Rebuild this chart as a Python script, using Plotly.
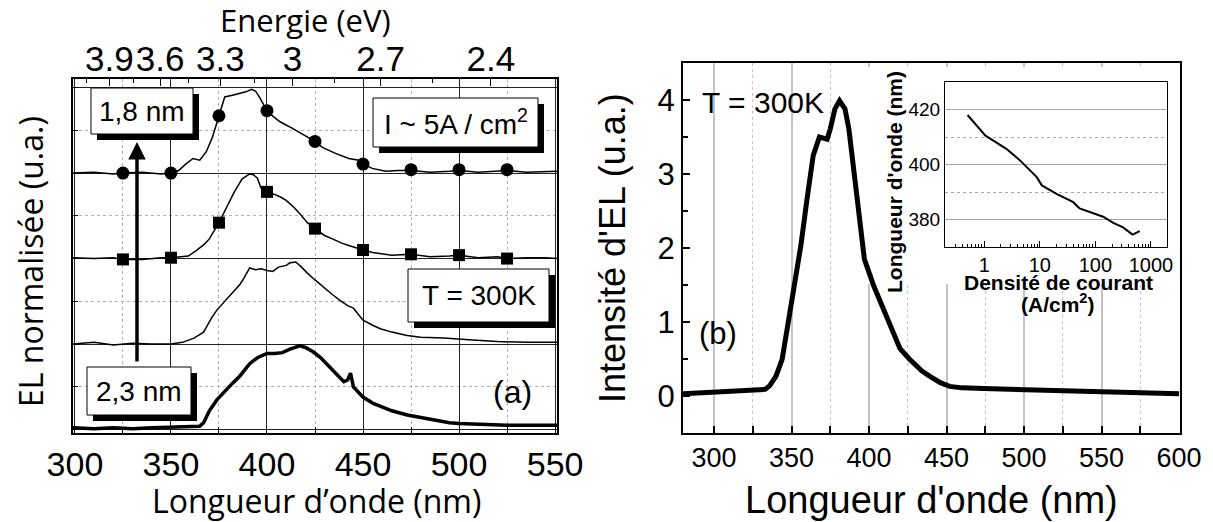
import plotly.graph_objects as go

# ---------------- data ----------------
# Panel (a): normalised EL spectra, stacked (offsets 3,2,1,0)
lam1 = [299, 310, 320, 325, 335, 345, 350, 354, 358, 361.5, 365, 368.4, 371.6, 375, 378, 382, 386, 389, 392, 394, 396,
        400, 403.3, 406.8, 413.5, 420.1, 425, 428.8, 435.7, 442.6, 447.8, 450, 454.8, 461.7, 468, 475, 485, 495, 500,
        510, 520, 525, 535, 545, 551]
h1 = [0.0, 0.01, -0.01, 0.0, 0.01, -0.01, 0.0, 0.03, 0.11, 0.17, 0.15, 0.25, 0.42, 0.67, 0.89, 0.91, 0.93, 0.95, 0.98,
      0.96, 0.89, 0.73, 0.66, 0.60, 0.52, 0.43, 0.37, 0.30, 0.23, 0.17, 0.15, 0.105, 0.055, 0.02, 0.03, 0.03, 0.01,
      0.02, 0.03, 0.01, 0.02, 0.03, 0.01, 0.02, 0.02]

lam2 = [299, 310, 320, 325, 335, 345, 350, 355, 359, 363, 367, 370, 375, 379, 383, 387, 391, 393, 395, 397, 400, 404,
        407, 410, 414, 418, 421, 425, 430, 434, 439, 443, 447, 450, 455, 459, 465, 475, 485, 495, 500, 510, 520, 525,
        535, 545, 551]
h2 = [0.01, 0.0, 0.01, -0.01, -0.01, 0.01, 0.01, 0.02, 0.03, 0.09, 0.16, 0.23, 0.42, 0.60, 0.78, 0.93, 0.99, 0.98, 0.94,
      0.82, 0.78, 0.75, 0.72, 0.68, 0.60, 0.50, 0.42, 0.35, 0.27, 0.23, 0.18, 0.15, 0.12, 0.10, 0.07, 0.06, 0.04, 0.05,
      0.02, 0.03, 0.04, 0.01, 0.02, 0.0, 0.01, 0.01, 0.0]

lam3 = [299, 310, 320, 330, 340, 350, 356, 362, 367, 371, 374, 378, 382, 386, 388, 391, 394, 397, 400, 403, 406, 410,
        412, 415, 418, 421, 425, 429, 434, 438, 442, 445, 448, 450, 455, 459, 465, 473, 480, 492, 505, 520, 535, 551]
h3 = [0.0, 0.02, -0.01, 0.01, 0.0, 0.0, 0.02, 0.07, 0.14, 0.30, 0.40, 0.50, 0.59, 0.70, 0.77, 0.89, 0.87, 0.88, 0.86,
      0.85, 0.90, 0.92, 0.95, 0.96, 0.90, 0.83, 0.75, 0.67, 0.58, 0.51, 0.45, 0.42, 0.33, 0.28, 0.22, 0.18, 0.14, 0.10,
      0.08, 0.07, 0.05, 0.03, 0.02, 0.02]

lam4 = [299, 310, 320, 330, 340, 350, 360, 365, 367, 370, 374, 378, 382, 386, 391, 395, 400, 404, 408, 412, 417, 420,
        424, 428, 431, 435, 440, 442, 443.5, 445, 448, 450, 455, 459, 465, 473, 480, 487, 495, 500, 510, 525, 540, 551]
h4 = [0.02, 0.01, 0.02, 0.01, 0.02, 0.03, 0.03, 0.04, 0.08, 0.22, 0.35, 0.45, 0.54, 0.63, 0.77, 0.84, 0.89, 0.89, 0.90,
      0.94, 0.98, 0.96, 0.91, 0.84, 0.77, 0.68, 0.56, 0.58, 0.66, 0.50, 0.42, 0.38, 0.31, 0.27, 0.22, 0.17, 0.14, 0.11,
      0.08, 0.07, 0.06, 0.05, 0.05, 0.05]

offsets = [3, 2, 1, 0]

marker_lam = [325, 350, 375, 400, 425, 450, 475, 500, 525]
circle_h = [0.0, 0.0, 0.67, 0.73, 0.37, 0.105, 0.04, 0.04, 0.04]
square_h = [-0.01, 0.01, 0.42, 0.78, 0.35, 0.10, 0.05, 0.04, 0.0]

energy_ticks = [3.9, 3.6, 3.3, 3.0, 2.7, 2.4]
energy_labels = ["3.9", "3.6", "3.3", "3", "2.7", "2.4"]
energy_minor = [4.05, 3.75, 3.45, 3.15, 2.85, 2.55, 2.25]
HC = 1239.84  # eV*nm

# Panel (b): EL intensity at 300 K
lamR = [280, 290, 300, 312, 322, 333, 336, 340, 344, 347, 351, 356, 360, 364, 368, 371, 373, 375, 378, 381, 384.5,
        387, 390, 393, 397, 403, 409, 416, 420, 426, 434, 439, 446, 452, 460, 474, 490, 501, 520, 538, 560, 580, 600]
intR = [0.03, 0.04, 0.05, 0.06, 0.07, 0.09, 0.14, 0.27, 0.50, 0.86, 1.40, 2.03, 2.66, 3.25, 3.50, 3.48, 3.47, 3.61,
        3.88, 3.99, 3.88, 3.61, 3.07, 2.53, 1.85, 1.49, 1.20, 0.85, 0.64, 0.50, 0.34, 0.27, 0.18, 0.13, 0.11, 0.10,
        0.09, 0.085, 0.07, 0.06, 0.05, 0.04, 0.03]

# Inset: peak wavelength vs current density
cur_dens = [0.5, 1.05, 2.5, 4.4, 8.8, 10.9, 20, 40, 52, 138, 210, 316, 468, 630]
peak_lam = [418, 410.5, 405.7, 401.5, 395.4, 392.4, 389.3, 386.3, 384, 381, 378.8, 377.1, 374.5, 375.8]
inset_xticks = [1, 10, 100, 1000]
inset_minor = [0.3, 0.4, 0.5, 0.6, 0.7, 0.8, 0.9, 2, 3, 4, 5, 6, 7, 8, 9, 20, 30, 40, 50, 60, 70, 80, 90,
               200, 300, 400, 500, 600, 700, 800, 900]

# ---------------- helpers ----------------
W, H = 1213, 522
OFF = 8  # default body margin of the html page
def px(x):
    return (x - OFF) / W
def py(y):
    return 1 - (y - OFF) / H

NUM = "Liberation Sans, Arial, sans-serif"
TTL = "Open Sans, Lato, sans-serif"

fig = go.Figure()

spectra = [(lam1, h1, 1.5), (lam2, h2, 1.5), (lam3, h3, 1.5), (lam4, h4, 3.5)]
for (lam, hh, w), off in zip(spectra, offsets):
    fig.add_trace(go.Scatter(x=lam, y=[v + off for v in hh], mode="lines",
                             line=dict(color="black", width=w), xaxis="x", yaxis="y", hoverinfo="skip"))
fig.add_trace(go.Scatter(x=marker_lam, y=[v + offsets[0] for v in circle_h], mode="markers",
                         marker=dict(symbol="circle", size=13, color="black"), xaxis="x", yaxis="y"))
fig.add_trace(go.Scatter(x=marker_lam, y=[v + offsets[1] for v in square_h], mode="markers",
                         marker=dict(symbol="square", size=12, color="black"), xaxis="x", yaxis="y"))
# invisible trace to activate the energy axis
fig.add_trace(go.Scatter(x=[HC / e for e in energy_ticks], y=[0] * len(energy_ticks), mode="markers",
                         marker=dict(opacity=0), xaxis="x2", yaxis="y", hoverinfo="skip"))

fig.add_trace(go.Scatter(x=lamR, y=intR, mode="lines", line=dict(color="black", width=5),
                         xaxis="x3", yaxis="y3", hoverinfo="skip"))
fig.add_trace(go.Scatter(x=cur_dens, y=peak_lam, mode="lines", line=dict(color="black", width=2),
                         xaxis="x4", yaxis="y4", hoverinfo="skip"))

frame = dict(showline=True, linecolor="black", mirror=True, zeroline=False, automargin=False)

fig.update_layout(
    width=W, height=H, autosize=False, showlegend=False,
    margin=dict(l=0, r=0, t=0, b=0, pad=0, autoexpand=False),
    paper_bgcolor="white", plot_bgcolor="white",
    xaxis=dict(domain=[px(73), px(557)], range=[299, 551], anchor="y", linewidth=1.5,
               tickmode="linear", tick0=300, dtick=50, ticks="inside", ticklen=6, tickcolor="black",
               showgrid=True, gridcolor="#222222", gridwidth=1,
               minor=dict(dtick=25, tick0=300, ticks="inside", ticklen=6, tickcolor="black",
                          showgrid=True, gridcolor="#b0b0b0", griddash="dot", gridwidth=1),
               tickfont=dict(family=NUM, size=34, color="black"), tickangle=0, **frame),
    xaxis2=dict(overlaying="x", side="top", anchor="y", range=[299, 551], tickmode="array",
                tickvals=[HC / e for e in energy_ticks], ticktext=energy_labels, ticks="inside", ticklen=7,
                tickcolor="black", showgrid=False, zeroline=False, tickangle=0, automargin=False,
                minor=dict(tickmode="array", tickvals=[HC / e for e in energy_minor], ticks="inside",
                           ticklen=4, tickcolor="black", showgrid=False),
                tickfont=dict(family=NUM, size=35, color="black")),
    yaxis=dict(domain=[py(433), py(79)], range=[-0.04, 4.10], anchor="x", linewidth=1.5,
               tickmode="linear", tick0=0, dtick=1, ticks="inside", ticklen=5, tickcolor="black",
               showticklabels=False, showgrid=True, gridcolor="#222222", gridwidth=1,
               minor=dict(dtick=0.5, tick0=0, ticks="inside", ticklen=5, tickcolor="black",
                          showgrid=True, gridcolor="#b0b0b0", griddash="dot", gridwidth=1), **frame),
    xaxis3=dict(domain=[px(683), px(1180)], range=[280, 600.6], anchor="y3", linewidth=2,
                tickmode="linear", tick0=300, dtick=50, ticks="inside", ticklen=7, tickcolor="black", tickwidth=1.5,
                showgrid=True, gridcolor="#c4c4c4", gridwidth=1.5,
                minor=dict(dtick=25, tick0=300, ticks="inside", ticklen=7, tickcolor="black",
                           showgrid=True, gridcolor="#c4c4c4", griddash="dot", gridwidth=1),
                tickfont=dict(family=NUM, size=27, color="black"), tickangle=0, **frame),
    yaxis3=dict(domain=[py(433), py(63)], range=[-0.5, 4.5], anchor="x3", linewidth=2,
                tickmode="linear", tick0=0, dtick=1, ticks="inside", ticklen=7, tickcolor="black", tickwidth=1.5,
                showgrid=False,
                minor=dict(dtick=0.5, tick0=0, ticks="inside", ticklen=5, tickcolor="black", showgrid=False),
                tickfont=dict(family=NUM, size=31, color="black"), **frame),
    xaxis4=dict(type="log", domain=[px(945), px(1167)], range=[-0.707, 3.29], anchor="y4", linewidth=1,
                tickmode="array", tickvals=inset_xticks, ticktext=[str(v) for v in inset_xticks],
                ticks="inside", ticklen=6, tickcolor="black", showgrid=False,
                minor=dict(tickmode="array", tickvals=inset_minor, ticks="inside", ticklen=3,
                           tickcolor="black", showgrid=False),
                tickfont=dict(family=NUM, size=20, color="black"), tickangle=0, **frame),
    yaxis4=dict(domain=[py(247), py(82)], range=[370, 430], anchor="x4", linewidth=1,
                tickmode="linear", tick0=0, dtick=20, ticks="", showgrid=True, gridcolor="#a8a8a8", gridwidth=1,
                minor=dict(dtick=10, tick0=0, showgrid=True, gridcolor="#a8a8a8", griddash="dot"),
                tickfont=dict(family=NUM, size=19, color="black"), **frame),
)

shapes = []
# white cover behind the inset (hides panel (b) grid lines)
def lam_of(xp):
    return 300 + (xp - 714) / 77.5 * 50
def int_of(yp):
    return (397 - yp) / 74
shapes.append(dict(type="rect", xref="x3", yref="y3", x0=lam_of(864), x1=lam_of(1178.5),
                   y0=int_of(285), y1=int_of(68), fillcolor="white", line=dict(width=0), layer="between"))

boxes = [
    ((91, 88, 193, 134), "1,8 nm"),
    ((373, 98, 538, 147), "I ~ 5A / cm<sup>2</sup>"),
    ((408, 269, 549, 322), "T = 300K"),
    ((87, 367, 191, 415), "2,3 nm"),
]
annotations = []
for (x0, y0, x1, y1), txt in boxes:
    shapes.append(dict(type="rect", xref="paper", yref="paper", x0=px(x0 + 6), x1=px(x1 + 6),
                       y0=py(y1 + 6), y1=py(y0 + 6), fillcolor="black", line=dict(width=0), layer="above"))
    shapes.append(dict(type="rect", xref="paper", yref="paper", x0=px(x0), x1=px(x1),
                       y0=py(y1), y1=py(y0), fillcolor="white", line=dict(color="black", width=1), layer="above"))
    annotations.append(dict(text=txt, x=px((x0 + x1) / 2), y=py((y0 + y1) / 2), xref="paper", yref="paper",
                            xanchor="center", yanchor="middle", showarrow=False,
                            font=dict(family=NUM, size=28, color="black")))

fig.update_layout(shapes=shapes)

def txt(text, x, y, size, family=NUM, angle=0, xanchor="center", bold=False):
    if bold:
        text = "<b>" + text + "</b>"
    annotations.append(dict(text=text, x=px(x), y=py(y), xref="paper", yref="paper", xanchor=xanchor,
                            yanchor="middle", showarrow=False, textangle=angle,
                            font=dict(family=family, size=size, color="black")))

txt("Energie (eV)", 305, 20, 31, TTL)
txt("Longueur d’onde (nm)", 316, 500, 32, TTL)
txt("EL normalisée (u.a.)", 30, 262, 32, TTL, angle=-90)
txt("(a)", 512, 392, 32)
txt("T = 300K", 700, 103, 30, xanchor="left")
txt("(b)", 697, 333, 31, xanchor="left")
txt("Longueur d'onde (nm)", 931, 500, 38)
txt("Intensité d'EL (u.a.)", 612, 248, 36, angle=-90)
txt("Longueur d'onde (nm)", 895, 182, 21, angle=-90, bold=True)
txt("Densité de courant", 1058, 282, 21, bold=True)
txt("(A/cm<sup>2</sup>)", 1058, 303, 21, bold=True)

# arrow 2,3 nm -> 1,8 nm
annotations.append(dict(text="", x=px(137), y=py(142), xref="paper", yref="paper", showarrow=True,
                        ax=0, ay=221, arrowhead=2, arrowsize=1, arrowwidth=3.5, arrowcolor="black"))

fig.update_layout(annotations=annotations)

fig.write_html("out.html")
